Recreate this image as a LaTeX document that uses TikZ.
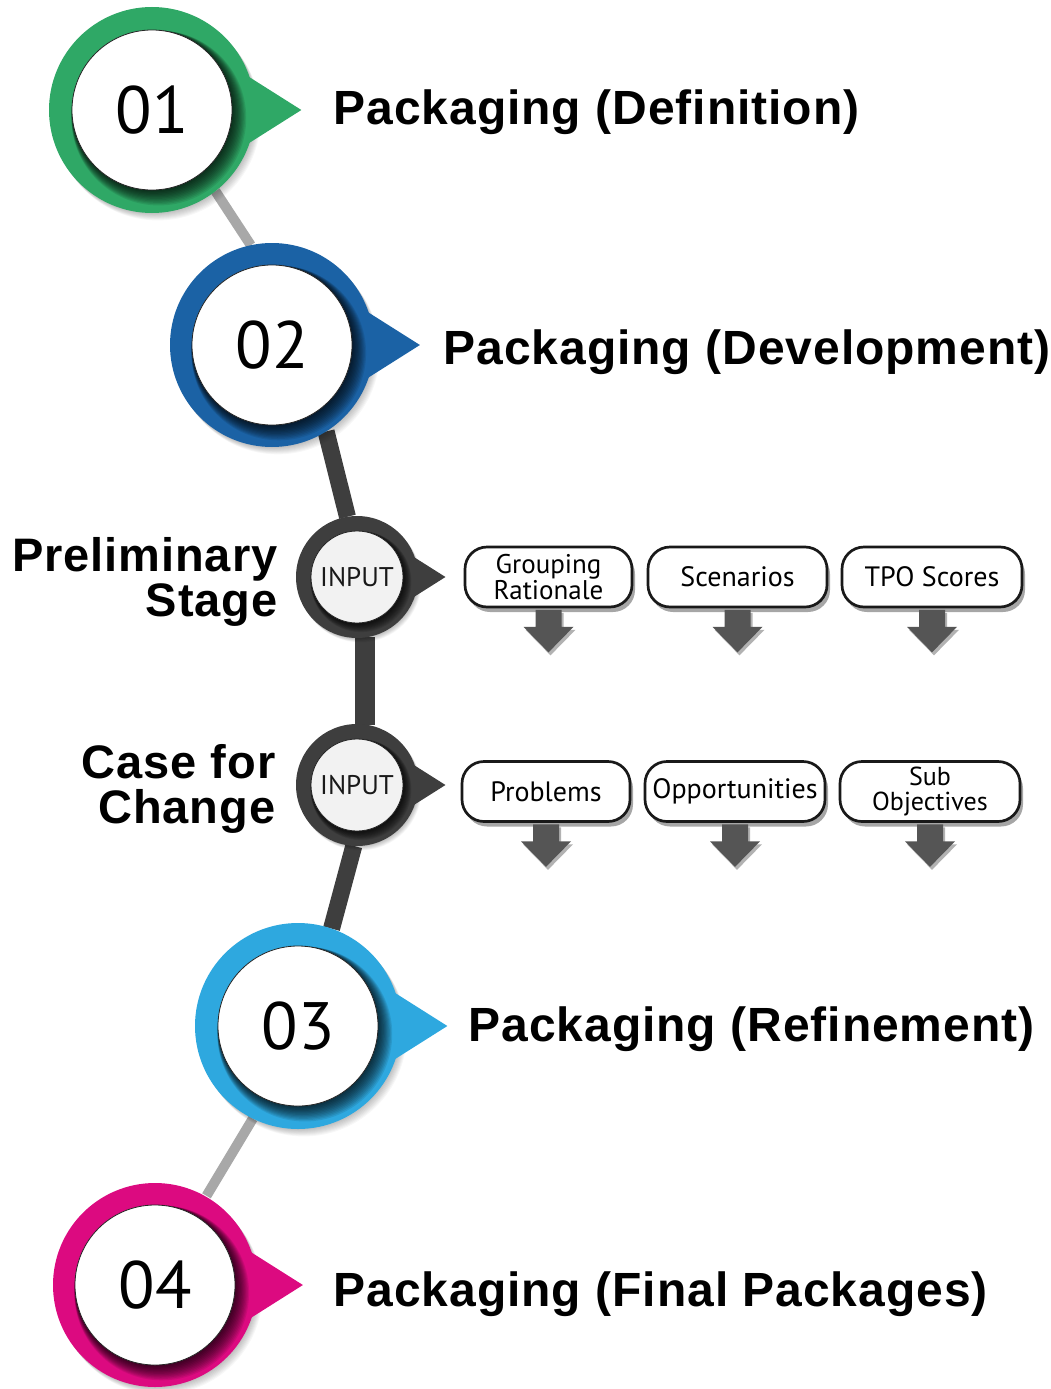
\documentclass[tikz,border=0pt]{standalone}
\usepackage{fontspec}
\setmainfont{PT Sans}
\newfontfamily\titlefont{Liberation Sans}[LetterSpace=2]
\usetikzlibrary{calc,shadows}
\definecolor{cgreen}{HTML}{2FA866}
\definecolor{cblue}{HTML}{1B62A5}
\definecolor{clight}{HTML}{2EA8DF}
\definecolor{cmag}{HTML}{DC0A80}
\definecolor{cdark}{HTML}{3E3E3E}
\definecolor{cline}{HTML}{A8A8A8}
\definecolor{cinput}{HTML}{F2F2F2}
\definecolor{carrow}{HTML}{555555}
\newcommand\ringdeco[6]{%
  \foreach \k in {1,...,8}{\fill[black,opacity=0.03] ($(#1.center)+({\k*0.7*#2/100},{\k*0.9*#2/100})$) circle[radius={(#2)*1pt}];}
  \fill[#4] ($(#1.center)+({1.45*#2},0)$) -- ($(#1.center)+({0.58*#2},{-0.55*#2})$) -- ($(#1.center)+({0.58*#2},{0.55*#2})$) -- cycle;
  \fill[#4] (#1.center) circle[radius={(#2)*1pt}];
  \begin{scope}
    \clip (#1.center) circle[radius={(#2)*1pt}];
    \foreach \k in {1,...,12}{\fill[black,opacity=0.09] ($(#1.center)+({\k*0.55*#2/100},{\k*0.65*#2/100})$) circle[radius={(#3+\k*0.6*#2/100)*1pt}];}
  \end{scope}
  \fill[#5, draw=black!85, line width=0.8pt] (#1.center) circle[radius={(#3)*1pt}];
  #6
}
\tikzset{
  ringnode/.style={circle, inner sep=0pt, outer sep=0pt, minimum size=#1},
  greyline/.style={cline, line width=10pt},
  darkline/.style={cdark, line width=17pt},
  numtext/.style={font=\fontsize{67}{67}\selectfont, text=black},
  inputtext/.style={font=\fontsize{27}{27}\selectfont, text=black!90},
  titletext/.style={font=\titlefont\bfseries\fontsize{48}{54}\selectfont, anchor=base west},
  sidetext/.style={font=\titlefont\bfseries\fontsize{47}{45}\selectfont, align=right, anchor=east},
  pill/.style={draw=black!90, line width=2.7pt, fill=white, rounded corners=22pt,
    minimum height=60pt, inner sep=0pt, align=center,
    font=\fontsize{28}{24}\selectfont,
    drop shadow={shadow xshift=3pt, shadow yshift=-5pt, opacity=0.35, fill=black}},
  twoline/.style={font=\fontsize{27}{24}\selectfont},
  downarrow/.style={fill=carrow, drop shadow={shadow xshift=2pt, shadow yshift=-3pt, opacity=0.3, fill=black}}
}
\newcommand\downarr[1]{%
  \fill[downarrow] ($(#1.south)+(-13,1.5)$) -- ++(0,17) -- ++(-12,0) -- ($(#1.south)+(0,44)$) -- ($(#1.south)+(25,18.5)$) -- ++(-12,0) -- ($(#1.south)+(13,1.5)$) -- cycle;
}
\begin{document}
\begin{tikzpicture}[x=1pt,y=-1pt]
\useasboundingbox[fill=white] (0,0) rectangle (1050,1389);
% invisible ring nodes
\node[ringnode=206pt] (n1) at (152,110) {};
\node[ringnode=204pt] (n2) at (272,345) {};
\node[ringnode=122pt] (in1) at (357,577) {};
\node[ringnode=122pt] (in2) at (357,785) {};
\node[ringnode=206pt] (n3) at (298,1026) {};
\node[ringnode=206pt] (n4) at (155,1285) {};
% connectors
\draw[greyline] (n1.-52) -- (n2.102);
\draw[darkline] (n2.-58) -- (in1.99);
\draw[cdark, line width=20pt] (in1.-82) -- (in2.82);
\draw[darkline] (in2.-93) -- (n3.71);
\draw[greyline] (n3.-116) -- (n4.60);
% rings
\ringdeco{n1}{103}{80}{cgreen}{white}{\node[numtext] at (n1.center) {01};}
\ringdeco{n2}{102}{80}{cblue}{white}{\node[numtext] at (n2.center) {02};}
\ringdeco{in1}{61}{46}{cdark}{cinput}{\node[inputtext] at (in1.center) {INPUT};}
\ringdeco{in2}{61}{46}{cdark}{cinput}{\node[inputtext] at (in2.center) {INPUT};}
\ringdeco{n3}{103}{80}{clight}{white}{\node[numtext] at (n3.center) {03};}
\ringdeco{n4}{102}{80}{cmag}{white}{\node[numtext] at (n4.center) {04};}
% titles
\node[titletext] (t1) at (330,124) {Packaging (Definition)};
\node[titletext] (t2) at (440,364) {Packaging (Development)};
\node[titletext] (t3) at (465,1041) {Packaging (Refinement)};
\node[titletext] (t4) at (330,1306) {Packaging (Final Packages)};
% side labels
\node[sidetext] (l1) at (281,582) {Preliminary\\Stage};
\node[sidetext] (l2) at (279,789) {Case for\\Change};
% boxes
\node[pill, twoline, minimum width=167pt] (b11) at (548.5,577) {Grouping\\Rationale};
\node[pill, minimum width=179pt] (b12) at (737.5,577) {Scenarios};
\node[pill, minimum width=180pt] (b13) at (932,577) {TPO Scores};
\node[pill, minimum width=168pt] (b21) at (546,791.5) {Problems};
\node[pill, minimum width=180pt] (b22) at (735,791.5) {Opportunities};
\node[pill, font=\fontsize{26}{25}\selectfont, minimum width=180pt] (b23) at (930,791.5) {Sub\\Objectives};
\downarr{b11}\downarr{b12}\downarr{b13}
\downarr{b21}\downarr{b22}\downarr{b23}
\end{tikzpicture}
\end{document}
